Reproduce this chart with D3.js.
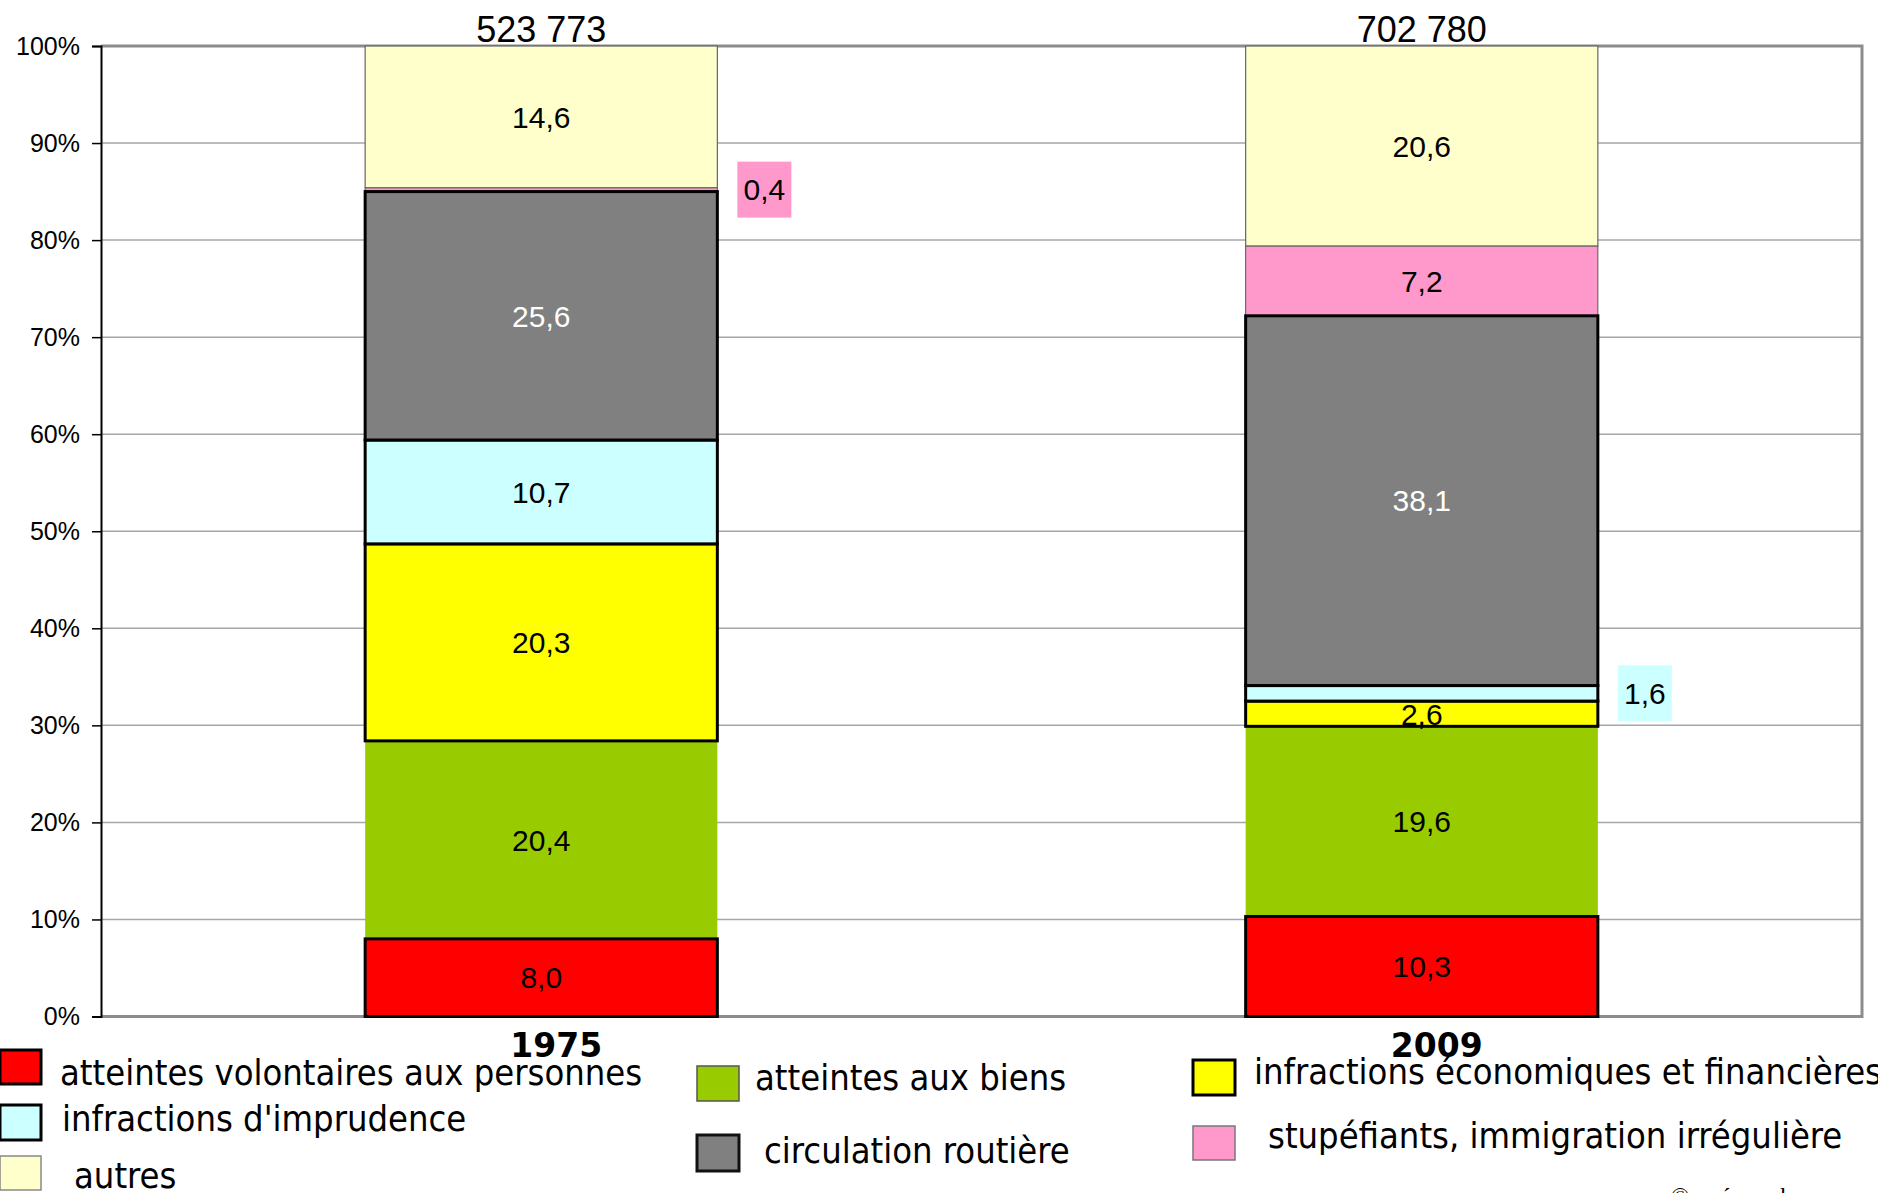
<!DOCTYPE html>
<html>
<head>
<meta charset="utf-8">
<script src="https://cdn.jsdelivr.net/npm/d3@7"></script>
<style>
  body { margin: 0; background: #fff; }
  svg { display: block; }
</style>
</head>
<body>
<div id="chart"></div>
<script>
// years, totals and categories
const years = ["1975", "2009"];
const totals = ["523 773", "702 780"];

const categories = [
    "atteintes volontaires aux personnes",
    "atteintes aux biens",
    "infractions économiques et financières",
    "infractions d'imprudence",
    "circulation routière",
    "stupéfiants, immigration irrégulière",
    "autres"
];

// share of each category, in %, bottom to top
const values1975 = [8.0, 20.4, 20.3, 10.7, 25.6, 0.4, 14.6];
const values2009 = [10.3, 19.6, 2.6, 1.6, 38.1, 7.2, 20.6];

// styles
const colors = ["#ff0000", "#99cc00", "#ffff00", "#ccffff", "#808080", "#ff99cc", "#ffffcc"];
const strokes = ["#000", "none", "#000", "#000", "#000", "#555", "#666"];
const strokeWidths = [3, 0, 3, 3, 3, 1, 1.2];
const swatchStrokes = ["#000", "#555", "#000", "#000", "#111", "#777", "#888"];
const swatchWidths = [3, 1.5, 3, 3, 3, 1.5, 1.5];

const width = 1878, height = 1193;
const plot = { left: 101, right: 1862, top: 46, bottom: 1016.5 };

// table for d3.stack
const table = years.map((yr, i) => {
    let row = { year: yr, total: totals[i] };
    let vals = i === 0 ? values1975 : values2009;
    categories.forEach((c, j) => row[c] = vals[j]);
    return row;
});

const svg = d3.select("#chart")
    .append("svg")
    .attr("width", width)
    .attr("height", height);

const x = d3.scaleBand()
    .domain(years)
    .range([plot.left, plot.right])
    .paddingInner(0.6)
    .paddingOuter(0.3);

const y = d3.scaleLinear()
    .domain([0, 100])
    .range([plot.bottom, plot.top]);

// gridlines
svg.append("g")
    .selectAll("line")
    .data(y.ticks(10))
    .enter()
    .append("line")
    .attr("x1", plot.left)
    .attr("x2", plot.right)
    .attr("y1", d => y(d))
    .attr("y2", d => y(d))
    .attr("stroke", "#a6a6a6")
    .attr("stroke-width", 1.5);

// plot frame (top, right, bottom in gray)
svg.append("path")
    .attr("d", `M${plot.left},${plot.top}H${plot.right}V${plot.bottom}H${plot.left}`)
    .attr("fill", "none")
    .attr("stroke", "#8c8c8c")
    .attr("stroke-width", 3);

// y axis
const yAxis = svg.append("g")
    .attr("transform", `translate(${plot.left},0)`)
    .call(d3.axisLeft(y).ticks(10).tickSize(9).tickPadding(12).tickFormat(d => d + "%"));

yAxis.select(".domain").attr("stroke", "#000").attr("stroke-width", 2);
yAxis.selectAll(".tick line").attr("stroke", "#000").attr("stroke-width", 1.5);
yAxis.selectAll(".tick text")
    .attr("font-family", "Liberation Sans, Arial, sans-serif")
    .attr("font-size", 25)
    .attr("fill", "#000");

// -- BARS -- //
const stack = d3.stack().keys(categories);
const series = stack(table);

const groups = svg.append("g")
    .selectAll("g")
    .data(series)
    .enter()
    .append("g")
    .attr("fill", (d, i) => colors[i]);

groups.selectAll("rect")
    .data(d => d.map(p => ({ p: p, key: d.key, idx: d.index })))
    .enter()
    .append("rect")
    .attr("x", d => x(d.p.data.year))
    .attr("width", x.bandwidth())
    .attr("y", d => y(d.p[1]))
    .attr("height", d => y(d.p[0]) - y(d.p[1]))
    .attr("stroke", d => strokes[d.idx])
    .attr("stroke-width", d => strokeWidths[d.idx]);

// thick outlined segments on top so their borders stay whole
groups.filter((d, i) => strokeWidths[i] >= 3).raise();

// -- VALUE LABELS -- //
const labels = svg.append("g")
    .attr("font-family", "Liberation Sans, Arial, sans-serif")
    .attr("font-size", 30);

series.forEach((s, i) => {
    s.forEach(p => {
        let v = p[1] - p[0];
        let txt = d3.format(".1f")(v).replace(".", ",");
        let cy = y((p[0] + p[1]) / 2);
        let bx = x(p.data.year);
        if (v < 2) {
            // small slice: label outside with a coloured box
            let boxX = bx + x.bandwidth() + 20;
            labels.append("rect")
                .attr("x", boxX)
                .attr("y", cy - 28)
                .attr("width", 54)
                .attr("height", 56)
                .attr("fill", colors[i]);
            labels.append("text")
                .attr("x", boxX + 27)
                .attr("y", cy)
                .attr("dy", "0.36em")
                .attr("text-anchor", "middle")
                .attr("fill", "#000")
                .text(txt);
        } else {
            labels.append("text")
                .attr("x", bx + x.bandwidth() / 2)
                .attr("y", cy)
                .attr("dy", "0.36em")
                .attr("text-anchor", "middle")
                .attr("fill", colors[i] === "#808080" ? "#fff" : "#000")
                .text(txt);
        }
    });
});

// totals above bars
svg.append("g")
    .selectAll("text")
    .data(table)
    .enter()
    .append("text")
    .attr("x", d => x(d.year) + x.bandwidth() / 2)
    .attr("y", plot.top - 4)
    .attr("text-anchor", "middle")
    .attr("font-family", "Liberation Sans, Arial, sans-serif")
    .attr("font-size", 36)
    .attr("fill", "#000")
    .text(d => d.total);

// year labels
svg.append("g")
    .selectAll("text")
    .data(years)
    .enter()
    .append("text")
    .attr("x", d => x(d) + x.bandwidth() / 2 + 15)
    .attr("y", 1057)
    .attr("text-anchor", "middle")
    .attr("font-family", "DejaVu Sans, sans-serif")
    .attr("font-weight", "bold")
    .attr("font-size", 33)
    .attr("fill", "#000")
    .text(d => d);

// -- LEGEND -- //
const legendPos = [
    { x: 0, y: 1050, w: 41, h: 34, tx: 60, ty: 1085 },
    { x: 697, y: 1066, w: 42, h: 35, tx: 755, ty: 1090 },
    { x: 1193, y: 1060, w: 42, h: 35, tx: 1254, ty: 1084 },
    { x: 0, y: 1105, w: 41, h: 35, tx: 62, ty: 1131 },
    { x: 697, y: 1135, w: 42, h: 36, tx: 764, ty: 1163 },
    { x: 1193, y: 1126, w: 42, h: 34, tx: 1268, ty: 1148 },
    { x: 0, y: 1156, w: 41, h: 34, tx: 74, ty: 1188 }
];

const legend = svg.append("g")
    .selectAll("g")
    .data(categories)
    .enter()
    .append("g");

legend.append("rect")
    .attr("x", (d, i) => legendPos[i].x)
    .attr("y", (d, i) => legendPos[i].y)
    .attr("width", (d, i) => legendPos[i].w)
    .attr("height", (d, i) => legendPos[i].h)
    .attr("fill", (d, i) => colors[i])
    .attr("stroke", (d, i) => swatchStrokes[i])
    .attr("stroke-width", (d, i) => swatchWidths[i]);

legend.append("text")
    .attr("x", (d, i) => legendPos[i].tx)
    .attr("y", (d, i) => legendPos[i].ty)
    .attr("font-family", "DejaVu Sans Condensed, DejaVu Sans, sans-serif")
    .attr("font-stretch", "condensed")
    .attr("font-size", 36)
    .attr("fill", "#000")
    .text(d => d);

// credit, cut by the bottom edge
svg.append("text")
    .attr("x", 1671)
    .attr("y", 1204)
    .attr("font-family", "Liberation Serif, Times New Roman, serif")
    .attr("font-size", 24)
    .attr("fill", "#000")
    .text("©renée zauberman");
</script>
</body>
</html>
